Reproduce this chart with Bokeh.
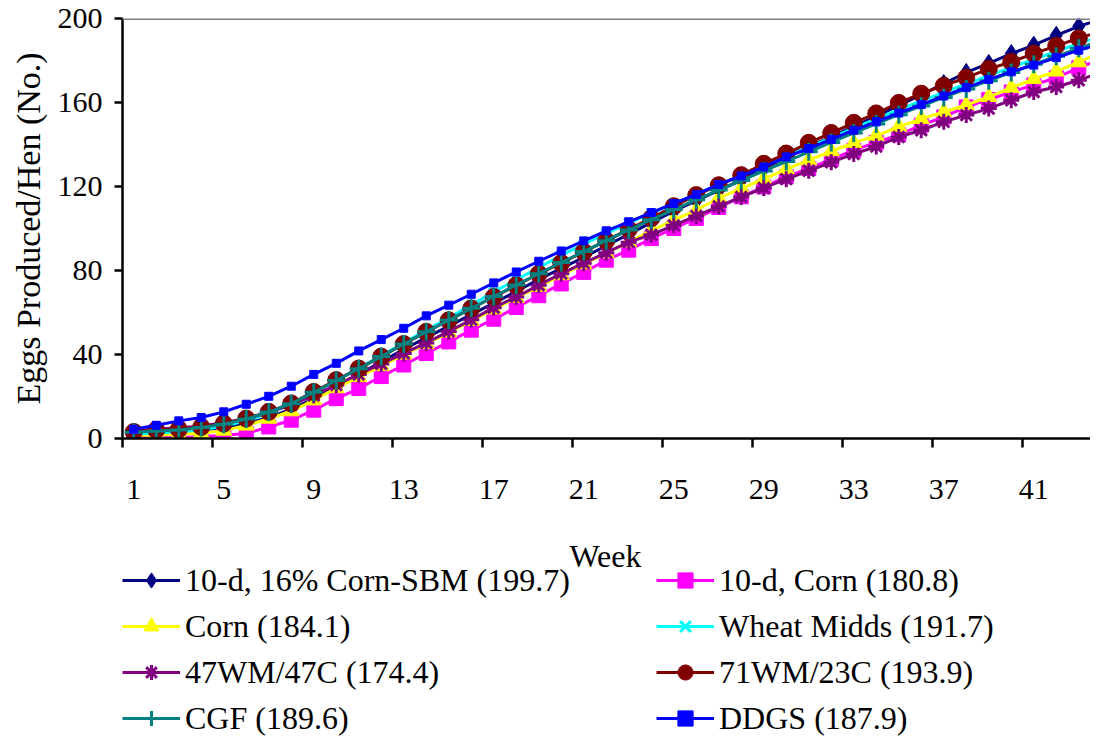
from bokeh.plotting import figure
from bokeh.layouts import column
from bokeh.models import Range1d, FixedTicker, LinearAxis, Legend, LegendItem, Span, Label
from bokeh.embed import file_html
from bokeh.resources import INLINE

weeks = list(range(1, 45))
x_label_ticks = [1, 5, 9, 13, 17, 21, 25, 29, 33, 37, 41]
x_boundary_ticks = [0.5, 4.5, 8.5, 12.5, 16.5, 20.5, 24.5, 28.5, 32.5, 36.5, 40.5]
y_ticks = [0, 40, 80, 120, 160, 200]

corn_sbm_10d = [2.5, 3.0, 3.3, 4.0, 5.0, 7.0, 10.0, 14.0, 19.0, 24.5, 30.5, 36.5, 42.5, 48.0,
                53.5, 59.0, 64.5, 70.0, 75.8, 81.0, 86.3, 91.8, 97.3, 102.8, 108.3, 113.3,
                118.2, 123.0, 128.5, 134.0, 139.0, 143.8, 148.6, 153.4, 158.6, 163.6, 169.0,
                174.3, 178.6, 183.3, 187.3, 192.0, 196.3, 199.7]
corn_10d = [0.5, 0.5, 0.5, 0.8, 1.6, 2.4, 5.5, 8.7, 13.5, 19.0, 23.8, 29.5, 35.0, 40.5, 46.0,
            51.6, 56.8, 62.4, 68.0, 73.6, 79.1, 84.9, 89.7, 95.2, 100.0, 104.8, 110.0, 115.1,
            119.8, 124.6, 128.6, 132.9, 137.3, 141.0, 144.6, 149.2, 153.1, 157.9, 161.4,
            165.0, 168.4, 171.8, 176.5, 180.8]
corn = [1.5, 1.5, 2.0, 2.5, 3.8, 6.2, 9.5, 13.0, 18.2, 24.0, 29.3, 34.5, 40.0, 45.0, 50.5,
        56.0, 61.5, 67.0, 72.3, 77.8, 83.0, 88.3, 93.5, 99.0, 104.0, 108.7, 114.5, 119.1,
        123.5, 128.3, 132.5, 136.8, 140.8, 144.2, 148.4, 152.2, 155.5, 158.8, 162.7, 167.0,
        171.2, 174.8, 179.2, 184.1]
wheat_midds = [2.0, 2.6, 3.2, 4.2, 5.8, 8.5, 12.0, 16.4, 21.8, 27.5, 33.5, 39.5, 45.6, 51.6,
               57.5, 63.6, 69.8, 75.6, 81.4, 87.2, 92.6, 97.7, 102.6, 107.3, 111.8, 116.3,
               120.8, 125.3, 129.8, 134.3, 138.8, 143.3, 147.8, 152.2, 156.6, 160.8, 164.8,
               168.8, 172.8, 176.7, 180.5, 184.3, 188.1, 191.7]
wm47_c47 = [3.5, 4.5, 5.0, 6.0, 7.5, 9.5, 12.5, 16.0, 20.5, 25.5, 30.5, 35.5, 40.5, 45.5,
            51.0, 56.5, 62.3, 67.4, 73.0, 78.5, 83.5, 88.5, 93.5, 97.0, 101.5, 106.0, 110.5,
            115.0, 119.3, 123.5, 127.5, 131.5, 135.5, 139.0, 143.6, 146.8, 150.8, 154.0,
            157.1, 161.1, 165.0, 167.4, 170.6, 174.4]
wm71_c23 = [3.1, 4.0, 4.4, 5.5, 7.1, 9.5, 12.7, 16.7, 22.2, 27.8, 33.3, 39.0, 45.0, 50.8,
            56.3, 61.9, 67.4, 73.0, 78.4, 83.6, 88.9, 94.2, 99.6, 104.9, 110.6, 115.9, 120.6,
            125.4, 130.8, 135.7, 140.8, 145.5, 150.3, 154.8, 159.8, 164.2, 168.0, 171.8,
            176.0, 179.3, 183.3, 187.0, 190.6, 193.9]
cgf = [3.0, 3.6, 4.1, 5.2, 6.8, 9.3, 12.6, 16.6, 22.0, 27.6, 33.2, 39.0, 45.0, 50.8, 56.4,
       62.0, 67.6, 73.1, 78.5, 83.8, 89.0, 94.2, 99.3, 104.2, 109.0, 113.7, 118.3, 122.8,
       127.4, 131.9, 136.5, 141.0, 145.5, 149.8, 154.2, 158.3, 162.4, 166.4, 170.4, 174.3,
       178.2, 182.0, 185.8, 189.6]
ddgs = [4.4, 6.3, 8.4, 10.0, 12.7, 16.3, 20.1, 24.9, 30.5, 35.8, 41.7, 47.1, 52.5, 58.4,
        63.5, 68.7, 74.1, 79.3, 84.4, 89.3, 94.1, 98.9, 103.2, 107.6, 111.9, 116.2, 121.0,
        125.0, 129.3, 134.1, 138.1, 142.4, 146.8, 150.8, 155.0, 159.0, 163.1, 167.1, 171.0,
        174.6, 177.8, 181.4, 184.9, 187.9]

labels = ["10-d, 16% Corn-SBM (199.7)", "10-d, Corn (180.8)", "Corn (184.1)",
          "Wheat Midds (191.7)", "47WM/47C (174.4)", "71WM/23C (193.9)",
          "CGF (189.6)", "DDGS (187.9)"]
values = [corn_sbm_10d, corn_10d, corn, wheat_midds, wm47_c47, wm71_c23, cgf, ddgs]
colors = ["#000080", "#FF00FF", "#FFFF00", "#00FFFF", "#800080", "#800000", "#008080", "#0000FF"]
markers = ["diamond", "square", "triangle", "x", "asterisk", "circle", "cross", "square"]
msizes = [18, 14, 16, 13, 16, 17, 18, 8]

FONT = "Liberation Serif"
W = 1090
LEFT = 122

p = figure(width=W, height=537, output_backend="svg", toolbar_location=None,
           x_range=Range1d(0.5, 0.5 + (W - LEFT) / 22.5), y_range=Range1d(0, 200),
           x_axis_location=None, min_border_left=LEFT, min_border_right=0,
           min_border_top=18, min_border_bottom=99)
p.outline_line_color = None
p.xgrid.visible = False
p.ygrid.visible = False
p.background_fill_color = "white"
p.border_fill_color = "white"

yax = p.yaxis[0]
yax.ticker = FixedTicker(ticks=y_ticks)
yax.axis_line_width = 2.5
yax.axis_line_color = "black"
yax.major_tick_line_width = 2.5
yax.major_tick_line_color = "black"
yax.major_tick_out = 8
yax.major_tick_in = 0
yax.minor_tick_line_color = None
yax.major_label_text_font = FONT
yax.major_label_text_font_size = "30px"
yax.major_label_text_color = "black"
yax.major_label_standoff = 12
yax.axis_label = "Eggs Produced/Hen (No.)"
yax.axis_label_text_font = FONT
yax.axis_label_text_font_size = "34px"
yax.axis_label_text_font_style = "normal"
yax.axis_label_text_color = "black"
yax.axis_label_standoff = 8

ax_ticks = LinearAxis(ticker=FixedTicker(ticks=x_boundary_ticks),
                      major_label_overrides={t: "" for t in x_boundary_ticks},
                      major_label_text_font_size="0px", major_label_standoff=0,
                      major_tick_out=9, major_tick_in=0, major_tick_line_width=2.5,
                      major_tick_line_color="black",
                      minor_tick_line_color=None, axis_line_width=2.5, axis_line_color="black")
p.add_layout(ax_ticks, "below")

ax_labels = LinearAxis(ticker=FixedTicker(ticks=x_label_ticks),
                       axis_line_color=None, major_tick_line_color=None,
                       major_tick_out=0, major_tick_in=0, minor_tick_line_color=None,
                       major_label_text_font=FONT, major_label_text_font_size="30px",
                       major_label_text_color="black",
                       major_label_standoff=32)
p.add_layout(ax_labels, "below")

p.add_layout(Span(location=200, dimension="width", line_color="#808080", line_width=3))

for vals, col, mk, ms in zip(values, colors, markers, msizes):
    p.line(weeks, vals, line_color=col, line_width=3)
    if mk in ("x", "asterisk", "cross"):
        p.scatter(weeks, vals, marker=mk, size=ms, line_color=col, line_width=3)
    else:
        p.scatter(weeks, vals, marker=mk, size=ms, fill_color=col, line_color=col)

# legend panel (second figure, frame aligned with the chart's frame) holding hidden
# copies of the series so that the legend can draw their glyphs
H2 = 200
q = figure(width=W, height=H2, output_backend="svg", toolbar_location=None,
           x_axis_location=None, y_axis_location=None, min_border=0,
           x_range=Range1d(0, 1), y_range=Range1d(0, 1))
q.outline_line_color = None
q.xgrid.visible = False
q.ygrid.visible = False

items = []
for lab, vals, col, mk, ms in zip(labels, values, colors, markers, msizes):
    lr = q.line(weeks, vals, line_color=col, line_width=3, visible=False)
    if mk in ("x", "asterisk", "cross"):
        sr = q.scatter(weeks, vals, marker=mk, size=ms, line_color=col, line_width=3,
                       visible=False)
    else:
        sr = q.scatter(weeks, vals, marker=mk, size=ms, fill_color=col, line_color=col,
                       visible=False)
    items.append(LegendItem(label=lab, renderers=[lr, sr]))

legend = Legend(items=items, orientation="horizontal", ncols=2, location=(0, 0),
                margin=0, padding=0, spacing=8, glyph_width=58, glyph_height=38,
                label_standoff=5, label_width=463,
                label_text_font=FONT, label_text_font_size="32px",
                label_text_color="black", inactive_fill_alpha=0,
                border_line_color=None, background_fill_alpha=0)
q.add_layout(legend, "center")

q.add_layout(Label(x=483, y=H2 - 18, x_units="screen", y_units="screen",
                   text="Week", text_align="center", text_baseline="middle",
                   text_font=FONT, text_font_size="32px", text_color="black"))

layout = column(p, q, spacing=0)
open("out.html", "w").write(file_html(layout, INLINE))
